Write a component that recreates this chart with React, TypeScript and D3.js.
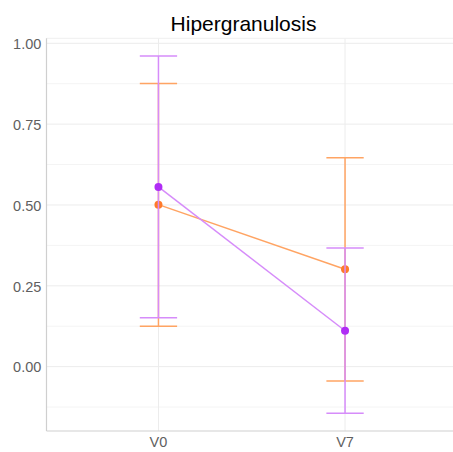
import React from "react";
import * as d3 from "d3";

const categories = ["V0", "V7"];
const purpleMean = [0.556, 0.111];
const purpleLow = [0.151, -0.144];
const purpleHigh = [0.961, 0.367];
const orangeMean = [0.501, 0.301];
const orangeLow = [0.125, -0.044];
const orangeHigh = [0.876, 0.646];
const yTicks = [0, 0.25, 0.5, 0.75, 1.0];
const yMinor = [-0.125, 0.125, 0.375, 0.625, 0.875];
const title = "Hipergranulosis";

const series = [
  { mean: orangeMean, low: orangeLow, high: orangeHigh, dot: "#ff7a2a", line: "#ffa463" },
  { mean: purpleMean, low: purpleLow, high: purpleHigh, dot: "#b02cf5", line: "#d68cfa" },
];

export default function App() {
  const W = 453, H = 452;
  const left = 46.5, right = 457, top = 38.3, bottom = 431;
  const x = d3.scaleLinear().domain([0.4, 2.6]).range([left, right]);
  const y = d3.scaleLinear().domain([-0.199, 1.0155]).range([bottom, top]);
  const capHalf = 0.1;
  const line = d3.line<number>().x((_, i) => x(i + 1)).y((d) => y(d));
  const font = "'Liberation Sans', Arial, sans-serif";
  return (
    <svg width={W} height={H} style={{ position: "absolute", left: 0, top: 0 }}>
      <rect x={0} y={0} width={W} height={H} fill="#fff" />
      {yMinor.map((v) => (
        <line key={"m" + v} x1={left} x2={right} y1={y(v)} y2={y(v)} stroke="#f4f4f4" strokeWidth={1} />
      ))}
      {yTicks.map((v) => (
        <line key={"g" + v} x1={left} x2={right} y1={y(v)} y2={y(v)} stroke="#ececec" strokeWidth={1} />
      ))}
      {categories.map((c, i) => (
        <line key={"v" + c} x1={x(i + 1)} x2={x(i + 1)} y1={top} y2={bottom} stroke="#ececec" strokeWidth={1} />
      ))}
      <line x1={left} x2={right} y1={top} y2={top} stroke="#efefef" strokeWidth={1} />
      <line x1={left} x2={left} y1={top} y2={bottom} stroke="#cfcfcf" strokeWidth={1.2} />
      <line x1={left} x2={right} y1={bottom} y2={bottom} stroke="#cfcfcf" strokeWidth={1.2} />
      {series.map((s, k) => (
        <g key={k}>
          {categories.map((c, i) => (
            <g key={c} stroke={s.line} strokeWidth={1.5}>
              <line x1={x(i + 1)} x2={x(i + 1)} y1={y(s.low[i])} y2={y(s.high[i])} />
              <line x1={x(i + 1 - capHalf)} x2={x(i + 1 + capHalf)} y1={y(s.low[i])} y2={y(s.low[i])} />
              <line x1={x(i + 1 - capHalf)} x2={x(i + 1 + capHalf)} y1={y(s.high[i])} y2={y(s.high[i])} />
            </g>
          ))}
          <path d={line(s.mean) || ""} fill="none" stroke={s.line} strokeWidth={1.5} />
          {s.mean.map((m, i) => (
            <circle key={i} cx={x(i + 1)} cy={y(m)} r={4} fill={s.dot} />
          ))}
        </g>
      ))}
      {yTicks.map((v) => (
        <text key={"t" + v} x={41.3} y={y(v) + 5.8} textAnchor="end" fontSize={14.5} fill="#5f5f5f" fontFamily={font}>
          {v.toFixed(2)}
        </text>
      ))}
      {categories.map((c, i) => (
        <text key={"x" + c} x={x(i + 1)} y={446.5} textAnchor="middle" fontSize={14.5} fill="#5f5f5f" fontFamily={font}>
          {c}
        </text>
      ))}
      <text x={243.5} y={31} textAnchor="middle" fontSize={21} fill="#000" fontFamily={font}>
        {title}
      </text>
    </svg>
  );
}
